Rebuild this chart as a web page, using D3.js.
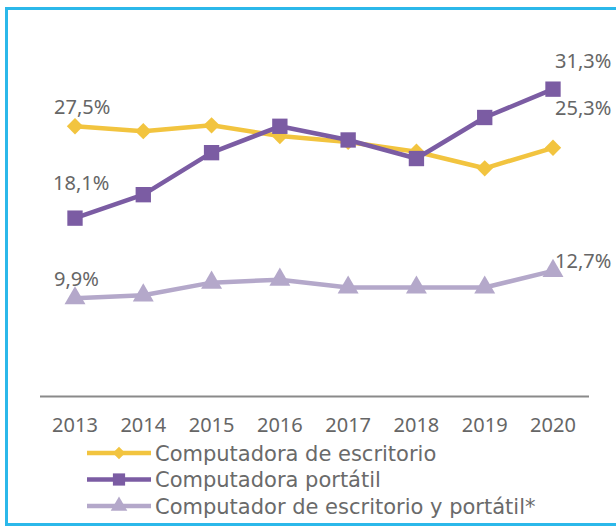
<!DOCTYPE html>
<html>
<head>
<meta charset="utf-8">
<script src="https://cdn.jsdelivr.net/npm/d3@7"></script>
<style>
  body { margin: 0; background: #fff; }
  svg text { font-family: "Noto Sans", "Open Sans", sans-serif; fill: #666; }
  svg .legend text { font-family: "DejaVu Sans", sans-serif; fill: #6a6a6a; }
</style>
</head>
<body>
<div id="chart"></div>
<script>
// datos
const years = ["2013", "2014", "2015", "2016", "2017", "2018", "2019", "2020"];
const escritorio = [27.5, 27.0, 27.6, 26.5, 25.9, 24.9, 23.2, 25.3];
const portatil = [18.1, 20.5, 24.8, 27.5, 26.1, 24.2, 28.4, 31.3];
const ambos = [9.9, 10.2, 11.5, 11.8, 11.0, 11.0, 11.0, 12.7];
const seriesNames = ["Computadora de escritorio", "Computadora portátil", "Computador de escritorio y portátil*"];

const width = 616, height = 529;

const svg = d3.select('#chart').append('svg')
    .attr('width', width)
    .attr('height', height);

// marco
svg.append('rect')
    .attr('x', 6.5).attr('y', 8.5)
    .attr('width', 640).attr('height', 516)
    .attr('fill', 'none')
    .attr('stroke', '#2bb8ea')
    .attr('stroke-width', 3);

const x = d3.scalePoint().domain(years).range([75, 553]);
const y = d3.scaleLinear().domain([0, 35]).range([395, 53]);

const series = [
    { name: seriesNames[0], values: escritorio, color: '#f2c43f', symbol: d3.symbolDiamond2, size: 170, legendSize: 100,
      labels: [{ i: 0, dx: -21, dy: -12 }, { i: 7, dx: 2, dy: -33 }] },
    { name: seriesNames[1], values: portatil, color: '#7b5ca3', symbol: d3.symbolSquare2, size: 300, legendSize: 190,
      labels: [{ i: 0, dx: -22, dy: -28 }, { i: 7, dx: 2, dy: -21 }] },
    { name: seriesNames[2], values: ambos, color: '#b4a8ca', symbol: d3.symbolTriangle, size: 190, legendSize: 120,
      labels: [{ i: 0, dx: -21, dy: -12 }, { i: 7, dx: 2, dy: -3 }] }
];

// eje x
svg.append('line')
    .attr('x1', 40).attr('x2', 589)
    .attr('y1', 396.5).attr('y2', 396.5)
    .attr('stroke', '#8a8a8a')
    .attr('stroke-width', 2);

svg.selectAll('.year')
    .data(years)
    .enter().append('text')
    .attr('class', 'year')
    .attr('x', d => x(d))
    .attr('y', 432)
    .attr('text-anchor', 'middle')
    .style('font-size', '20px')
    .text(d => d);

const line = d3.line()
    .x((d, i) => x(years[i]))
    .y(d => y(d));

// orden de dibujo: combinado, escritorio, portatil
[series[2], series[0], series[1]].forEach(s => {
    svg.append('path')
        .datum(s.values)
        .attr('d', line)
        .attr('fill', 'none')
        .attr('stroke', s.color)
        .attr('stroke-width', 4.5)
        .attr('stroke-linejoin', 'round');

    svg.selectAll(null)
        .data(s.values)
        .enter().append('path')
        .attr('transform', (d, i) => `translate(${x(years[i])},${y(d)})`)
        .attr('d', d3.symbol().type(s.symbol).size(s.size))
        .attr('fill', s.color);
});

// etiquetas
series.forEach(s => {
    s.labels.forEach(l => {
        svg.append('text')
            .attr('x', x(years[l.i]) + l.dx)
            .attr('y', y(s.values[l.i]) + l.dy)
            .style('font-size', '20px')
            .text(s.values[l.i].toFixed(1).replace('.', ',') + '%');
    });
});

// leyenda
const legend = svg.selectAll('.legend')
    .data(series)
    .enter().append('g')
    .attr('class', 'legend')
    .attr('transform', (d, i) => `translate(0,${453 + i * 26.5})`);

legend.append('line')
    .attr('x1', 87).attr('x2', 151)
    .attr('stroke', d => d.color)
    .attr('stroke-width', 4.5);

legend.append('path')
    .attr('transform', 'translate(119,0)')
    .attr('d', d => d3.symbol().type(d.symbol).size(d.legendSize)())
    .attr('fill', d => d.color);

legend.append('text')
    .attr('x', 155)
    .attr('y', 7.5)
    .style('font-size', '21px')
    .text(d => d.name);
</script>
</body>
</html>
